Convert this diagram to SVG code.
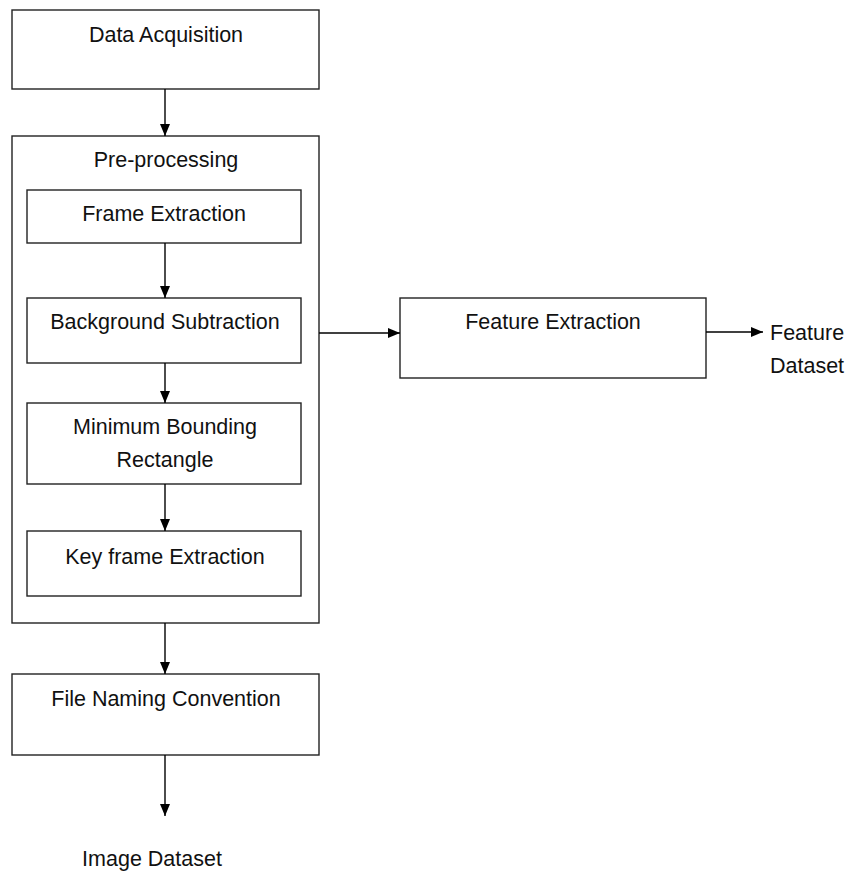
<svg xmlns="http://www.w3.org/2000/svg" width="849" height="873" viewBox="0 0 849 873">
<defs>
<marker id="arr" viewBox="0 0 12 10" refX="12" refY="5" markerWidth="12" markerHeight="10" markerUnits="userSpaceOnUse" orient="auto">
<path d="M0,0 L12,5 L0,10 Z" fill="#000"/>
</marker>
<style>
.box{fill:#fff;stroke:#222;stroke-width:1.4}
.t{font-family:"Liberation Sans",Arial,sans-serif;font-size:21.5px;fill:#111;text-anchor:middle}
.tl{font-family:"Liberation Sans",Arial,sans-serif;font-size:21.5px;fill:#111}
.c{stroke:#000;stroke-width:1.4;fill:none;marker-end:url(#arr)}
</style>
</defs>
<rect width="849" height="873" fill="#fff"/>
<g id="data-acquisition">
<rect class="box" x="12" y="10" width="307" height="79"/>
<text class="t" x="166" y="42">Data Acquisition</text>
</g>
<g id="pre-processing">
<rect class="box" x="12" y="136" width="307" height="487"/>
<text class="t" x="166" y="167">Pre-processing</text>
</g>
<g id="frame-extraction">
<rect class="box" x="27" y="190" width="274" height="53"/>
<text class="t" x="164" y="221">Frame Extraction</text>
</g>
<g id="background-subtraction">
<rect class="box" x="27" y="298" width="274" height="65"/>
<text class="t" x="165" y="329">Background Subtraction</text>
</g>
<g id="minimum-bounding-rectangle">
<rect class="box" x="27" y="403" width="274" height="81"/>
<text class="t" x="165" y="434">Minimum Bounding</text>
<text class="t" x="165" y="467">Rectangle</text>
</g>
<g id="key-frame-extraction">
<rect class="box" x="27" y="531" width="274" height="65"/>
<text class="t" x="165" y="564">Key frame Extraction</text>
</g>
<g id="file-naming-convention">
<rect class="box" x="12" y="674" width="307" height="81"/>
<text class="t" x="166" y="706">File Naming Convention</text>
</g>
<g id="image-dataset">
<text class="t" x="152" y="866">Image Dataset</text>
</g>
<g id="feature-extraction">
<rect class="box" x="400" y="298" width="306" height="80"/>
<text class="t" x="553" y="329">Feature Extraction</text>
</g>
<g id="feature-dataset">
<text class="tl" x="770" y="340">Feature</text>
<text class="tl" x="770" y="373">Dataset</text>
</g>
<g id="connectors">
<line class="c" x1="165" y1="89" x2="165" y2="136"/>
<line class="c" x1="165" y1="243" x2="165" y2="298"/>
<line class="c" x1="165" y1="363" x2="165" y2="403"/>
<line class="c" x1="165" y1="484" x2="165" y2="531"/>
<line class="c" x1="165" y1="623" x2="165" y2="674"/>
<line class="c" x1="165" y1="755" x2="165" y2="816"/>
<line class="c" x1="319" y1="333" x2="400" y2="333"/>
<line class="c" x1="706" y1="332" x2="763" y2="332"/>
</g>
</svg>
